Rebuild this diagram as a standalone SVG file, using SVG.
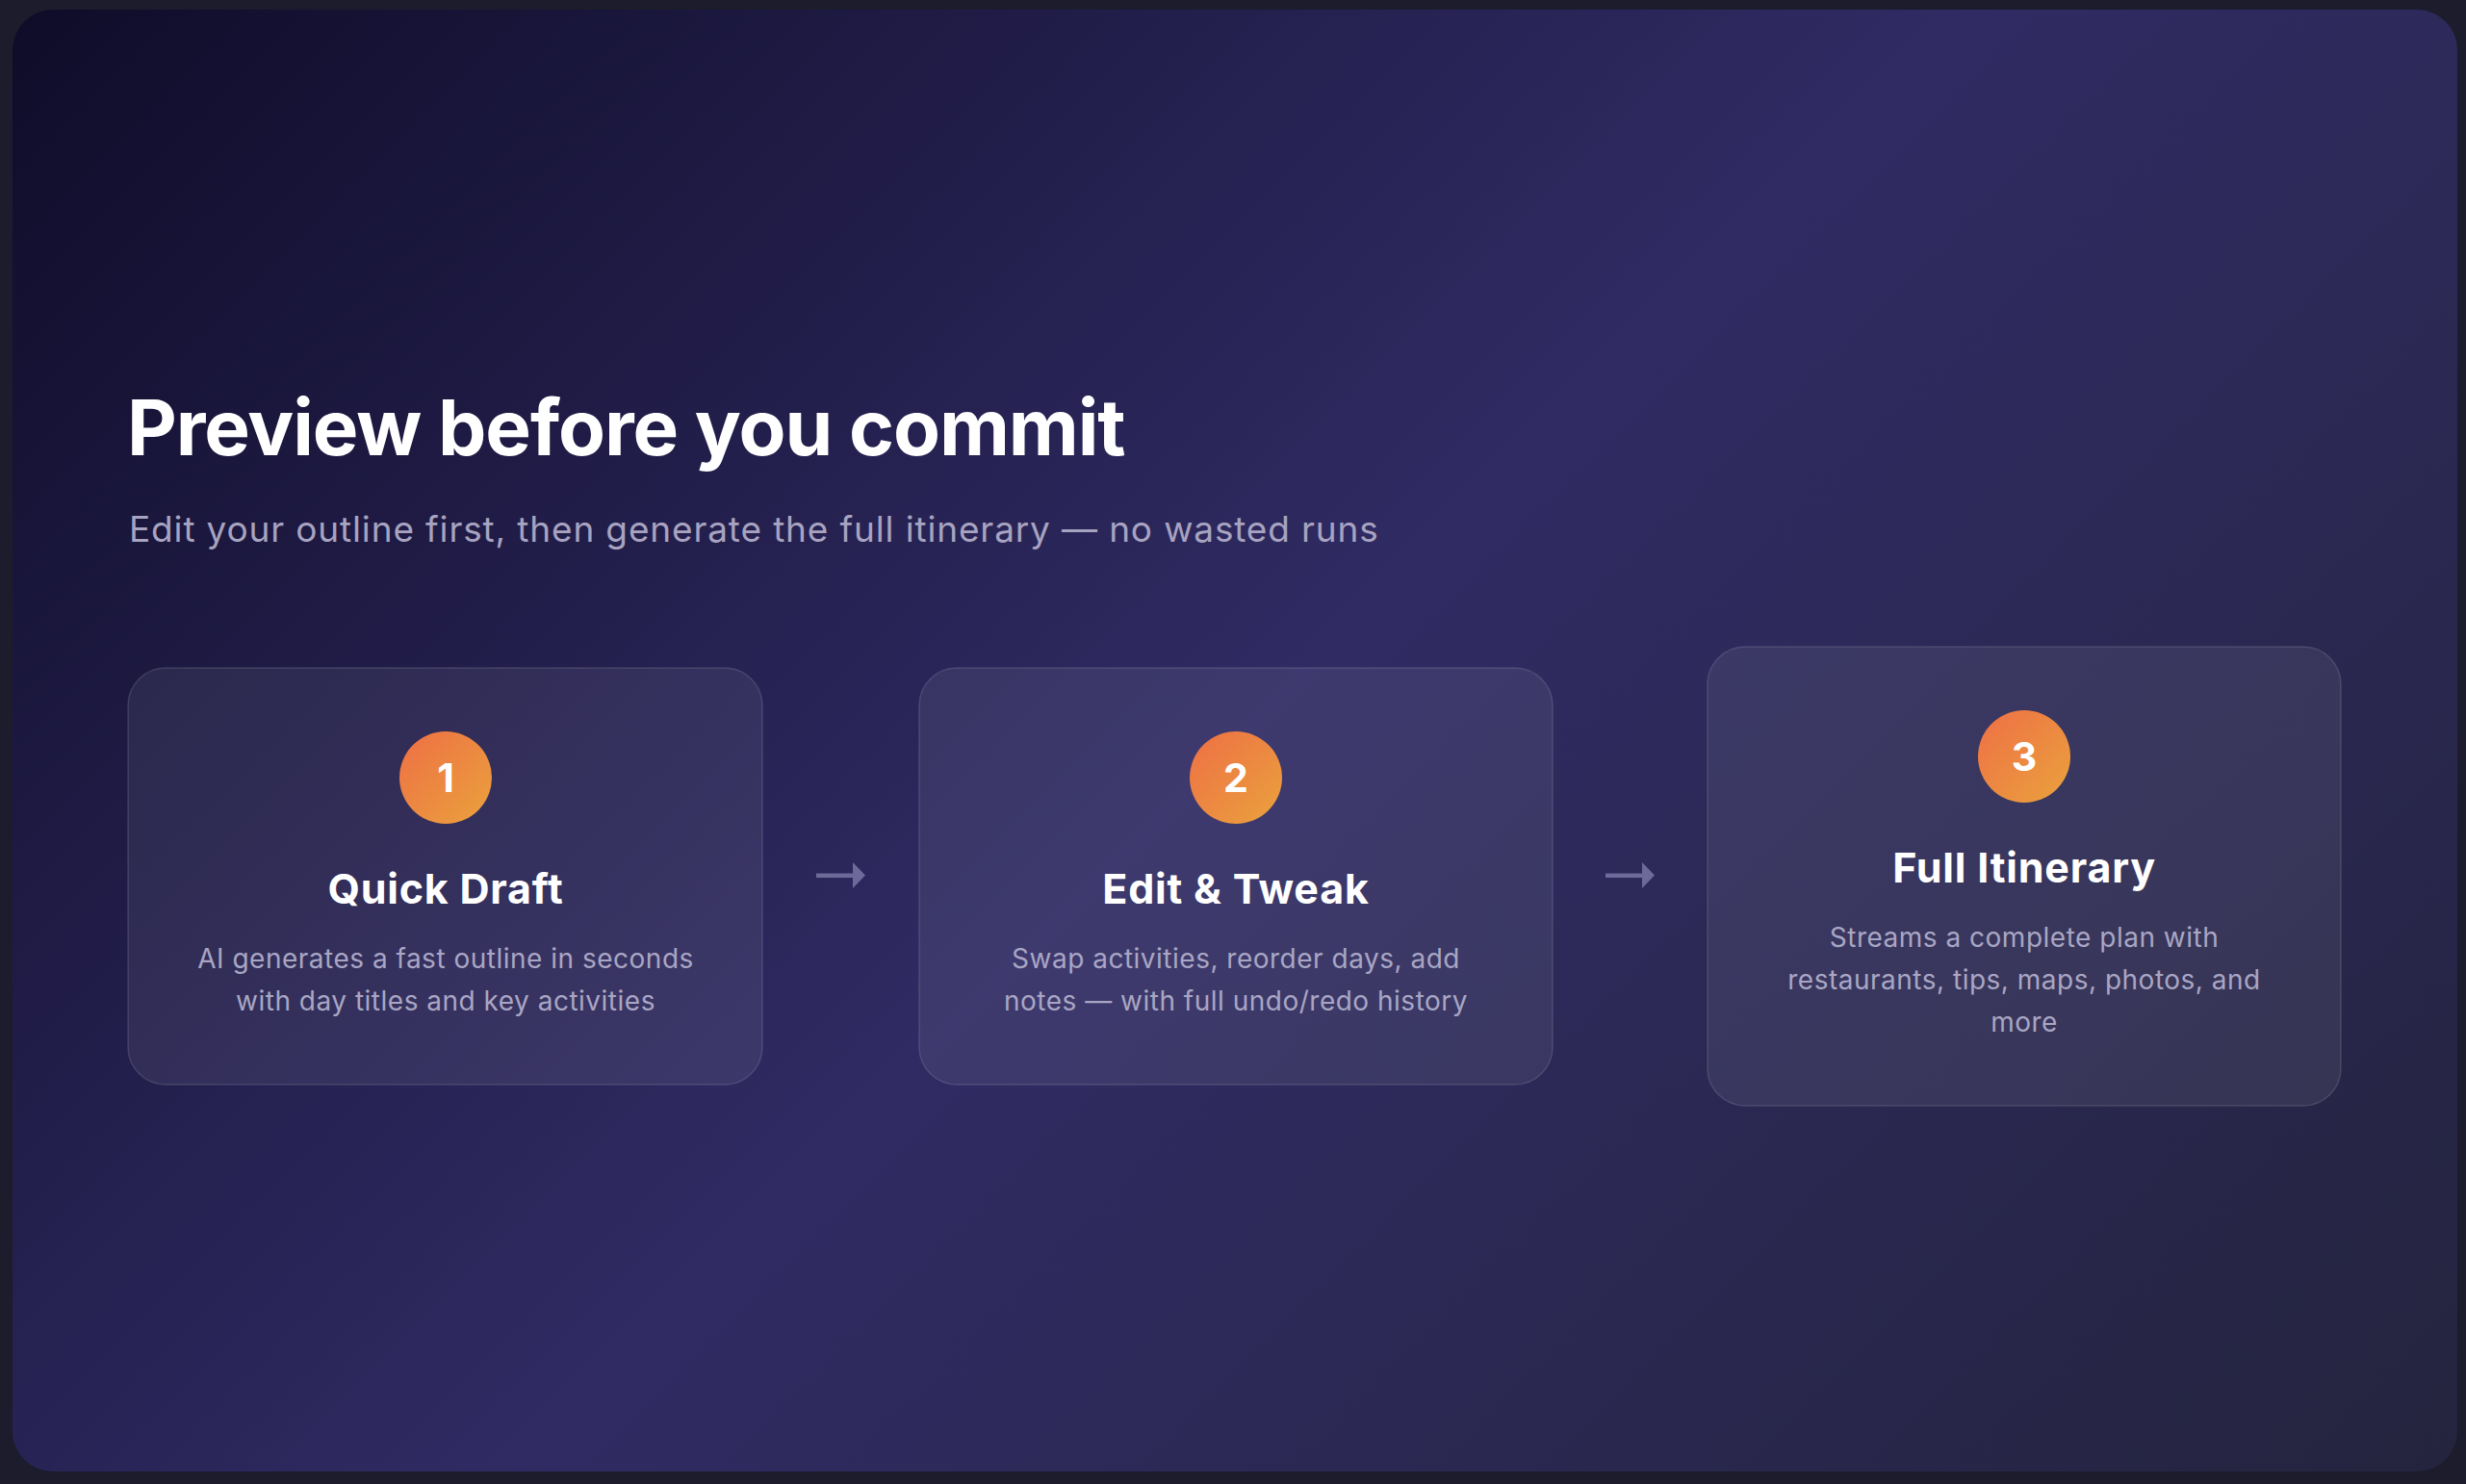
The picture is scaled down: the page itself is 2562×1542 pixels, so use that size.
<svg xmlns="http://www.w3.org/2000/svg" width="2562" height="1542" viewBox="0 0 2562 1542">
  <defs>
    <linearGradient id="bg" gradientUnits="userSpaceOnUse" x1="268" y1="-245" x2="2298" y2="1785">
      <stop offset="0" stop-color="#0f0c29"/>
      <stop offset="0.5" stop-color="#302b63"/>
      <stop offset="1" stop-color="#24243e"/>
    </linearGradient>
    <linearGradient id="badge" x1="0" y1="0" x2="1" y2="1">
      <stop offset="0" stop-color="#ee6f45"/>
      <stop offset="1" stop-color="#eaa23d"/>
    </linearGradient>
    <style>
      .card { fill: #ffffff; fill-opacity: 0.07; stroke: #ffffff; stroke-opacity: 0.13; stroke-width: 1.5; }
      .badge { fill: url(#badge); }
      .num { font-family: Inter, "Liberation Sans", sans-serif; font-weight: 700; font-size: 41px; fill: #ffffff; text-anchor: middle; }
      .ctitle { font-family: Inter, "Liberation Sans", sans-serif; font-weight: 700; font-size: 43px; fill: #ffffff; text-anchor: middle; letter-spacing: 0.8px; }
      .desc { font-family: Inter, "Liberation Sans", sans-serif; font-weight: 400; font-size: 28px; fill: #a9a6c4; text-anchor: middle; letter-spacing: 0.5px; }
      .arrow { fill: #6d6a99; }
    </style>
  </defs>
  <rect x="0" y="0" width="2562" height="1542" fill="#1c1c2d"/>
  <rect x="13" y="10" width="2540" height="1519" rx="42" fill="url(#bg)"/>

  <g id="header">
    <text x="132" y="473" font-family="Inter, 'Liberation Sans', sans-serif" font-weight="700" font-size="80" fill="#ffffff" letter-spacing="-1.1">Preview before you commit</text>
    <text x="134" y="563" font-family="Inter, 'Liberation Sans', sans-serif" font-weight="400" font-size="37" fill="#a7a3c0" letter-spacing="0.85">Edit your outline first, then generate the full itinerary — no wasted runs</text>
  </g>

  <g id="step1">
    <rect class="card" x="133" y="694" width="659" height="433" rx="39"/>
    <circle class="badge" cx="463" cy="808" r="48"/>
    <text class="num" x="463" y="823">1</text>
    <text class="ctitle" x="463" y="939">Quick Draft</text>
    <text class="desc" x="463" y="1006">AI generates a fast outline in seconds</text>
    <text class="desc" x="463" y="1050">with day titles and key activities</text>
  </g>

  <g id="step2">
    <rect class="card" x="955" y="694" width="658" height="433" rx="39"/>
    <circle class="badge" cx="1284" cy="808" r="48"/>
    <text class="num" x="1284" y="823">2</text>
    <text class="ctitle" x="1284" y="939">Edit &amp; Tweak</text>
    <text class="desc" x="1284" y="1006">Swap activities, reorder days, add</text>
    <text class="desc" x="1284" y="1050">notes — with full undo/redo history</text>
  </g>

  <g id="step3">
    <rect class="card" x="1774" y="672" width="658" height="477" rx="39"/>
    <circle class="badge" cx="2103" cy="786" r="48"/>
    <text class="num" x="2103" y="801">3</text>
    <text class="ctitle" x="2103" y="917">Full Itinerary</text>
    <text class="desc" x="2103" y="984">Streams a complete plan with</text>
    <text class="desc" x="2103" y="1028">restaurants, tips, maps, photos, and</text>
    <text class="desc" x="2103" y="1072">more</text>
  </g>

  <g id="connectors">
    <path class="arrow" d="M848 907.5 H886 V896 L899 909.5 L886 923 V912 H848 Z"/>
    <path class="arrow" d="M1668 907.5 H1706 V896 L1719 909.5 L1706 923 V912 H1668 Z"/>
  </g>
</svg>
